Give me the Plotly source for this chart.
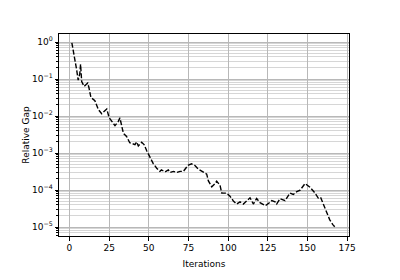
import plotly.graph_objects as go

iterations = [1.5, 3, 4.5, 5.5, 6.5, 7, 7.7, 9.3, 11.5, 12.3, 13.5, 16, 18.2, 20.3, 22.4, 23.5,
              25, 27, 28.7, 30.8, 31.8, 34, 36, 38, 41.3, 42.4, 43.4, 45.5, 47, 48.7, 50.8,
              52.8, 55, 57, 58, 60.2, 62.3, 63.4, 65.5, 67.6, 69.7, 71.8, 73.9, 75, 77, 79.1,
              81.2, 84.4, 86.5, 87.5, 89.7, 91.7, 92.8, 94.9, 96, 99.1, 101.2, 103.3, 105.4,
              107.5, 109.6, 111.7, 113.8, 115.9, 118, 120.1, 122.2, 123.5, 126.4, 127.5, 129.6,
              130.6, 132.7, 135.9, 139, 141.1, 143.3, 145.4, 148.5, 151.6, 154.8, 156.9, 158.4,
              161.5, 164, 166, 167.2]
relative_gap = [0.95, 0.45, 0.18, 0.093, 0.14, 0.25, 0.085, 0.063, 0.078, 0.058, 0.032, 0.026,
                0.015, 0.0115, 0.0135, 0.0155, 0.0091, 0.0071, 0.0055, 0.0072, 0.0089, 0.0034,
                0.0028, 0.0019, 0.0017, 0.0020, 0.00155, 0.00195, 0.0017, 0.00115, 0.00078,
                0.00052, 0.00039, 0.00032, 0.00035, 0.00031, 0.00035, 0.00030, 0.00032, 0.00030,
                0.00032, 0.00032, 0.00042, 0.00047, 0.00051, 0.00046, 0.00037, 0.00031, 0.00027,
                0.00018, 0.000123, 0.000148, 0.000174, 0.000135, 8.3e-5, 8.3e-5, 6.8e-5, 5.1e-5,
                4.2e-5, 4.8e-5, 4.2e-5, 5.1e-5, 6.2e-5, 4.2e-5, 5.9e-5, 4.6e-5, 4.0e-5, 3.8e-5,
                4.7e-5, 5.2e-5, 4.8e-5, 4.2e-5, 5.9e-5, 5.2e-5, 8.3e-5, 7.6e-5, 9.1e-5, 1.0e-4,
                1.5e-4, 1.2e-4, 8.3e-5, 6.0e-5, 6.2e-5, 2.8e-5, 1.6e-5, 1.17e-5, 1.02e-5]

x_ticks = [0, 25, 50, 75, 100, 125, 150, 175]
y_tick_vals = [1, 0.1, 0.01, 0.001, 1e-4, 1e-5]
y_tick_text = ["10<sup>0</sup>", "10<sup>\u22121</sup>", "10<sup>\u22122</sup>",
               "10<sup>\u22123</sup>", "10<sup>\u22124</sup>", "10<sup>\u22125</sup>"]

font = "DejaVu Sans, sans-serif"

fig = go.Figure()
fig.add_trace(go.Scatter(
    x=iterations, y=relative_gap, mode="lines",
    line=dict(color="black", width=1.4, dash="5px,2px"),
    showlegend=False,
))

fig.update_layout(
    width=400, height=280,
    margin=dict(l=59, r=51, t=34, b=31),
    paper_bgcolor="white", plot_bgcolor="white",
    font=dict(family=font, size=9, color="black"),
)
fig.update_xaxes(
    range=[-6.6, 176.2], tickvals=x_ticks, ticks="outside", ticklen=3.5,
    tickcolor="black", showline=True, linecolor="black", linewidth=1, mirror=True,
    showgrid=True, gridcolor="#b8b8b8", gridwidth=0.8, zeroline=False,
    title=dict(text="Iterations", font=dict(size=9, family=font, color="black"), standoff=8),
    tickfont=dict(size=9, family=font, color="black"),
)
fig.update_yaxes(
    type="log", range=[-5.24, 0.216], tickvals=y_tick_vals, ticktext=y_tick_text,
    ticks="outside", ticklen=3.5, tickcolor="black",
    showline=True, linecolor="black", linewidth=1, mirror=True,
    showgrid=True, gridcolor="#b8b8b8", gridwidth=0.8, zeroline=False,
    minor=dict(dtick="D1", ticks="outside", ticklen=2, tickcolor="black",
               showgrid=True, gridcolor="#d6d6d6", gridwidth=0.6),
    title=dict(text="Relative Gap", font=dict(size=9, family=font, color="black"), standoff=0),
    tickfont=dict(size=9, family=font, color="black"),
)

fig.write_html("out.html")
